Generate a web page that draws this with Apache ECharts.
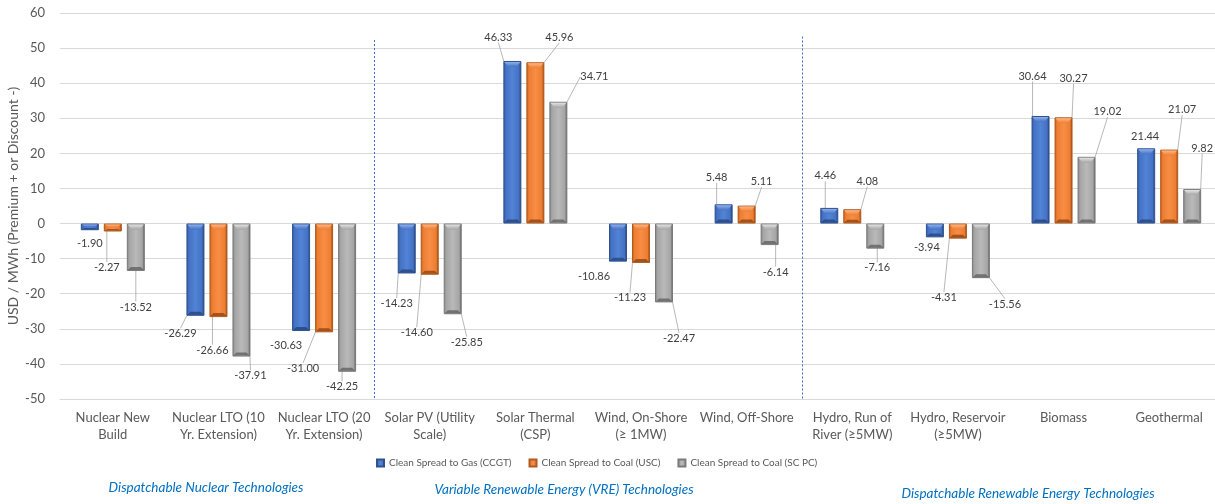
<!DOCTYPE html>
<html>
<head>
<meta charset="utf-8">
<script src="https://cdn.jsdelivr.net/npm/echarts@6/dist/echarts.min.js"></script>
<style>
  html, body { margin: 0; padding: 0; background: #ffffff; }
  #chart { width: 1215px; height: 504px; }
</style>
</head>
<body>
<div id="chart"></div>
<script>
// Technologies on the category axis
const categories = [
  'Nuclear New\nBuild',
  'Nuclear LTO (10\nYr. Extension)',
  'Nuclear LTO (20\nYr. Extension)',
  'Solar PV (Utility\nScale)',
  'Solar Thermal\n(CSP)',
  'Wind, On-Shore\n(≥ 1MW)',
  'Wind, Off-Shore',
  'Hydro, Run of\nRiver (≥5MW)',
  'Hydro, Reservoir\n(≥5MW)',
  'Biomass',
  'Geothermal'
];

const seriesNames = [
  'Clean Spread to Gas (CCGT)',
  'Clean Spread to Coal (USC)',
  'Clean Spread to Coal (SC PC)'
];

// USD / MWh premium (+) or discount (-)
const spreadGasCCGT  = [-1.90, -26.29, -30.63, -14.23, 46.33, -10.86, 5.48, 4.46, -3.94, 30.64, 21.44];
const spreadCoalUSC  = [-2.27, -26.66, -31.00, -14.60, 45.96, -11.23, 5.11, 4.08, -4.31, 30.27, 21.07];
const spreadCoalSCPC = [-13.52, -37.91, -42.25, -25.85, 34.71, -22.47, -6.14, -7.16, -15.56, 19.02, 9.82];

const yMin = -50, yMax = 60, yStep = 10;

const groupTitles = [
  'Dispatchable Nuclear Technologies',
  'Variable Renewable Energy (VRE) Technologies',
  'Dispatchable Renewable Energy Technologies'
];

const seriesValues = [spreadGasCCGT, spreadCoalUSC, spreadCoalSCPC];

// Value label placement relative to the bar end: [dx, dy, show leader line]
const labelOffsets = [
  [[0, 13, 0], [-15, 18, 1], [-15, 14, 0], [-10, 30, 1], [-14, -24, 1], [-24, 15, 0], [-7, -27, 1], [-4, -32, 1], [-8, 10, 0], [-8, -40, 1], [-1, -12, 0]],
  [[-6, 36, 1], [-6, 33, 1], [-21, 36, 1], [-13, 58, 1], [24, -25, 1], [-11, 35, 1], [15, -24, 1], [15, -28, 1], [-14, 59, 1], [10, -39, 1], [13, -40, 1]],
  [[0, 36, 1], [9, 19, 1], [-5, 15, 1], [14, 28, 1], [36, -25, 1], [15, 36, 1], [6, 27, 1], [2, 19, 1], [24, 26, 1], [21, -45, 1], [10, -41, 1]]
];

// Bevelled bar fills: [left edge, body, highlight, right edge, border, top cap, bottom edge]
const palettes = [
  ['#2f5597', '#4472c4', '#5283d6', '#1f3864', '#2f528f', '#8eb0ec', '#26457e'],
  ['#c55a11', '#ed7d31', '#f78e45', '#843c0c', '#ae5a21', '#fdb583', '#8f4512'],
  ['#808080', '#a5a5a5', '#b9b9b9', '#505050', '#7a7a7a', '#e2e2e2', '#616161']
];

const BAR_W = 18;
const BAR_STEP = 23;

function bevelFill(p) {
  return new echarts.graphic.LinearGradient(0, 0, 1, 0, [
    { offset: 0, color: p[0] },
    { offset: 0.14, color: p[1] },
    { offset: 0.5, color: p[2] },
    { offset: 0.86, color: p[1] },
    { offset: 1, color: p[3] }
  ]);
}

const FONT = 'Lato, "Open Sans", sans-serif';

const chart = echarts.init(document.getElementById('chart'), null, { renderer: 'canvas' });

const series = seriesValues.map((vals, s) => ({
  name: seriesNames[s],
  type: 'bar',
  barWidth: BAR_W,
  barGap: ((BAR_STEP - BAR_W) / BAR_W * 100).toFixed(1) + '%',
  data: vals.map((v, i) => ({
    value: v,
    labelLine: { show: !!labelOffsets[s][i][2] }
  })),
  itemStyle: {
    color: bevelFill(palettes[s]),
    borderColor: palettes[s][4],
    borderWidth: 1
  },
  label: {
    show: true,
    position: 'outside',
    formatter: p => p.value.toFixed(2),
    color: '#404040',
    fontSize: 11,
    fontFamily: FONT
  },
  labelLine: {
    show: true,
    length2: 0,
    lineStyle: { color: '#a6a6a6', width: 0.8 }
  },
  labelLayout: function (p) {
    const off = labelOffsets[p.seriesIndex][p.dataIndex];
    const v = seriesValues[p.seriesIndex][p.dataIndex];
    const r = p.rect;
    const top = Math.min(r.y, r.y + r.height);
    const bottom = Math.max(r.y, r.y + r.height);
    const endY = v >= 0 ? top : bottom;
    return {
      x: r.x + r.width / 2 + off[0],
      y: endY + off[1],
      align: 'center',
      verticalAlign: 'middle'
    };
  }
}));

// Bevel highlights: light cap on the upper edge and a dark lip on the lower edge of every bar
series.push({
  type: 'custom',
  silent: true,
  z: 3,
  data: categories.map((c, i) => [i, spreadGasCCGT[i], spreadCoalUSC[i], spreadCoalSCPC[i]]),
  encode: { x: 0, y: [1, 2, 3] },
  renderItem: function (params, api) {
    const i = api.value(0);
    const children = [];
    for (let k = 0; k < 3; k++) {
      const v = api.value(k + 1);
      const xc = api.coord([i, 0])[0] + (k - 1) * BAR_STEP;
      const yTop = api.coord([i, Math.max(v, 0)])[1];
      const yBot = api.coord([i, Math.min(v, 0)])[1];
      const h = yBot - yTop;
      const x0 = xc - BAR_W / 2, x1 = xc + BAR_W / 2;
      const cap = Math.min(5, h * 0.35);
      const lip = Math.min(3, h * 0.2);
      children.push({
        type: 'polygon',
        shape: { points: [[x0 + 1, yTop + 1], [x1 - 1, yTop + 1], [x1 - 5, yTop + 1 + cap], [x0 + 5, yTop + 1 + cap]] },
        style: {
          fill: new echarts.graphic.LinearGradient(0, 0, 0, 1, [
            { offset: 0, color: palettes[k][5] },
            { offset: 1, color: palettes[k][1] }
          ])
        }
      });
      children.push({
        type: 'polygon',
        shape: { points: [[x0 + 1, yBot - 1], [x1 - 1, yBot - 1], [x1 - 4, yBot - 1 - lip], [x0 + 4, yBot - 1 - lip]] },
        style: { fill: palettes[k][6], opacity: 0.8 }
      });
    }
    return { type: 'group', children: children };
  }
});

const option = {
  animation: false,
  backgroundColor: '#ffffff',
  textStyle: { fontFamily: FONT },
  grid: {
    left: 60,
    top: 13,
    width: 1162,
    height: 386,
    containLabel: false,
    outerBoundsMode: 'none'
  },
  legend: {
    data: seriesNames,
    left: 376,
    top: 458,
    padding: 0,
    itemWidth: 7,
    itemHeight: 7,
    itemGap: 17,
    icon: 'rect',
    textStyle: { color: '#595959', fontSize: 10, fontFamily: FONT }
  },
  xAxis: {
    type: 'category',
    data: categories,
    axisLine: { show: true, onZero: false, lineStyle: { color: '#d9d9d9' } },
    axisTick: { show: false },
    splitLine: { show: false },
    axisLabel: {
      interval: 0,
      color: '#595959',
      fontSize: 13,
      lineHeight: 17,
      margin: 10,
      fontFamily: FONT
    }
  },
  yAxis: {
    type: 'value',
    min: yMin,
    max: yMax,
    interval: yStep,
    name: 'USD / MWh (Premium + or Discount -)',
    nameLocation: 'middle',
    nameGap: 40,
    nameMoveOverlap: false,
    nameTextStyle: { color: '#595959', fontSize: 14, fontFamily: FONT },
    axisLine: { show: false },
    axisTick: { show: false },
    axisLabel: { color: '#595959', fontSize: 13, margin: 15, fontFamily: FONT },
    splitLine: { lineStyle: { color: '#d9d9d9', width: 1 } }
  },
  series: series
};

chart.setOption(option);

// Group separators between technology families and their captions
const px = i => chart.convertToPixel({ xAxisIndex: 0 }, i);
const py = v => chart.convertToPixel({ yAxisIndex: 0 }, v);
const separators = [[2, 3, 52.3, -3], [6, 7, 53.3, 3]];
const graphics = separators.map(([a, b, topVal, nudge]) => {
  const x = Math.round((px(a) + px(b)) / 2) + nudge + 0.5;
  return {
    type: 'line',
    silent: true,
    shape: { x1: x, y1: py(topVal), x2: x, y2: py(yMin) },
    style: { stroke: '#3a6fd0', lineWidth: 1, lineDash: [2, 2] }
  };
});
const captionPos = [[206, 488], [564, 490], [1028, 494]];
groupTitles.forEach((t, i) => {
  graphics.push({
    type: 'text',
    silent: true,
    x: captionPos[i][0],
    y: captionPos[i][1],
    style: {
      text: t,
      fill: '#0070c0',
      fontSize: 13.5,
      fontStyle: 'italic',
      fontFamily: FONT,
      align: 'center',
      verticalAlign: 'middle'
    }
  });
});
chart.setOption({ graphic: graphics });
</script>
</body>
</html>
